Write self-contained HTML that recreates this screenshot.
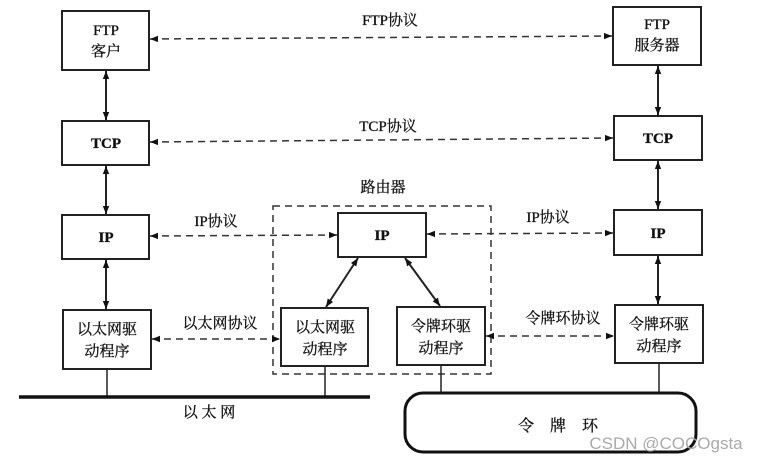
<!DOCTYPE html>
<html><head><meta charset="utf-8"><style>
html,body{margin:0;padding:0;background:#fff;}
svg text{font-family:"Liberation Serif","Noto Serif CJK SC",serif;fill:#111;stroke:#111;stroke-width:0.3;}
</style></head><body>
<svg width="763" height="464" viewBox="0 0 763 464" xmlns="http://www.w3.org/2000/svg">
<defs>
<marker id="a" viewBox="0 0 10 10" refX="10" refY="5" markerWidth="9" markerHeight="8" orient="auto-start-reverse" markerUnits="userSpaceOnUse"><path d="M0,1 L10,5 L0,9 Z" fill="#111"/></marker>
</defs>
<g fill="#fff" stroke="#222" stroke-width="2">
<rect x="62" y="11" width="87" height="59"/>
<rect x="62" y="121" width="87" height="44"/>
<rect x="62" y="215" width="87" height="44"/>
<rect x="63" y="310" width="88" height="59"/>
<rect x="613" y="7" width="88" height="58"/>
<rect x="614" y="116" width="88" height="44"/>
<rect x="614" y="210" width="88" height="45"/>
<rect x="615" y="305" width="88" height="58"/>
<rect x="338" y="213" width="88" height="44"/>
<rect x="281" y="308" width="87" height="58"/>
<rect x="397" y="307" width="88" height="58"/>
</g>
<rect x="273" y="206" width="218" height="168" fill="none" stroke="#333" stroke-width="1.5" stroke-dasharray="7,5"/>
<g stroke="#222" stroke-width="2" marker-start="url(#a)" marker-end="url(#a)">
<line x1="106" y1="71" x2="106" y2="120"/>
<line x1="106" y1="166" x2="106" y2="214"/>
<line x1="106" y1="260" x2="106" y2="309"/>
<line x1="658" y1="66" x2="658" y2="115"/>
<line x1="658" y1="161" x2="658" y2="209"/>
<line x1="658" y1="256" x2="658" y2="304"/>
<line x1="358" y1="258" x2="326" y2="307"/>
<line x1="405" y1="258" x2="440" y2="306"/>
</g>
<g stroke="#333" stroke-width="1.5" stroke-dasharray="7,5" marker-start="url(#a)" marker-end="url(#a)">
<line x1="150" y1="39" x2="612" y2="36"/>
<line x1="150" y1="142" x2="613" y2="138"/>
<line x1="150" y1="236" x2="337" y2="235"/>
<line x1="427" y1="234" x2="613" y2="233"/>
<line x1="152" y1="339" x2="280" y2="339"/>
<line x1="486" y1="336" x2="614" y2="336"/>
</g>
<g stroke="#222" stroke-width="1.5">
<line x1="107" y1="369" x2="107" y2="397"/>
<line x1="325" y1="366" x2="325" y2="397"/>
<line x1="441" y1="365" x2="441" y2="392"/>
<line x1="659" y1="363" x2="659" y2="392"/>
</g>
<line x1="19" y1="397" x2="370" y2="397" stroke="#111" stroke-width="3.5"/>
<rect x="405" y="393" width="291" height="59" rx="18" fill="#fff" stroke="#111" stroke-width="3"/>
<g font-size="15" text-anchor="middle">
<text x="106" y="35">FTP</text><text x="106" y="56">客户</text>
<text x="106" y="148" font-weight="bold">TCP</text>
<text x="106" y="242" font-weight="bold">IP</text>
<text x="107" y="334">以太网驱</text><text x="107" y="356">动程序</text>
<text x="657" y="29">FTP</text><text x="657" y="50">服务器</text>
<text x="658" y="143" font-weight="bold">TCP</text>
<text x="658" y="238" font-weight="bold">IP</text>
<text x="659" y="329">令牌环驱</text><text x="659" y="351">动程序</text>
<text x="382" y="240" font-weight="bold">IP</text>
<text x="325" y="332">以太网驱</text><text x="325" y="354">动程序</text>
<text x="441" y="331">令牌环驱</text><text x="441" y="353">动程序</text>
<text x="390" y="25">FTP协议</text>
<text x="388" y="131">TCP协议</text>
<text x="383" y="192">路由器</text>
<text x="216" y="226">IP协议</text>
<text x="548" y="222">IP协议</text>
<text x="220" y="328">以太网协议</text>
<text x="563" y="323">令牌环协议</text>
<text x="209" y="417">以 太 网</text>
<text x="558" y="431" font-size="16">令　牌　环</text>
</g>
<text x="666" y="449" font-size="17" text-anchor="middle" style="font-family:'Liberation Sans',sans-serif;fill:#aaa;stroke:none">CSDN @COCOgsta</text>
</svg>
</body></html>
